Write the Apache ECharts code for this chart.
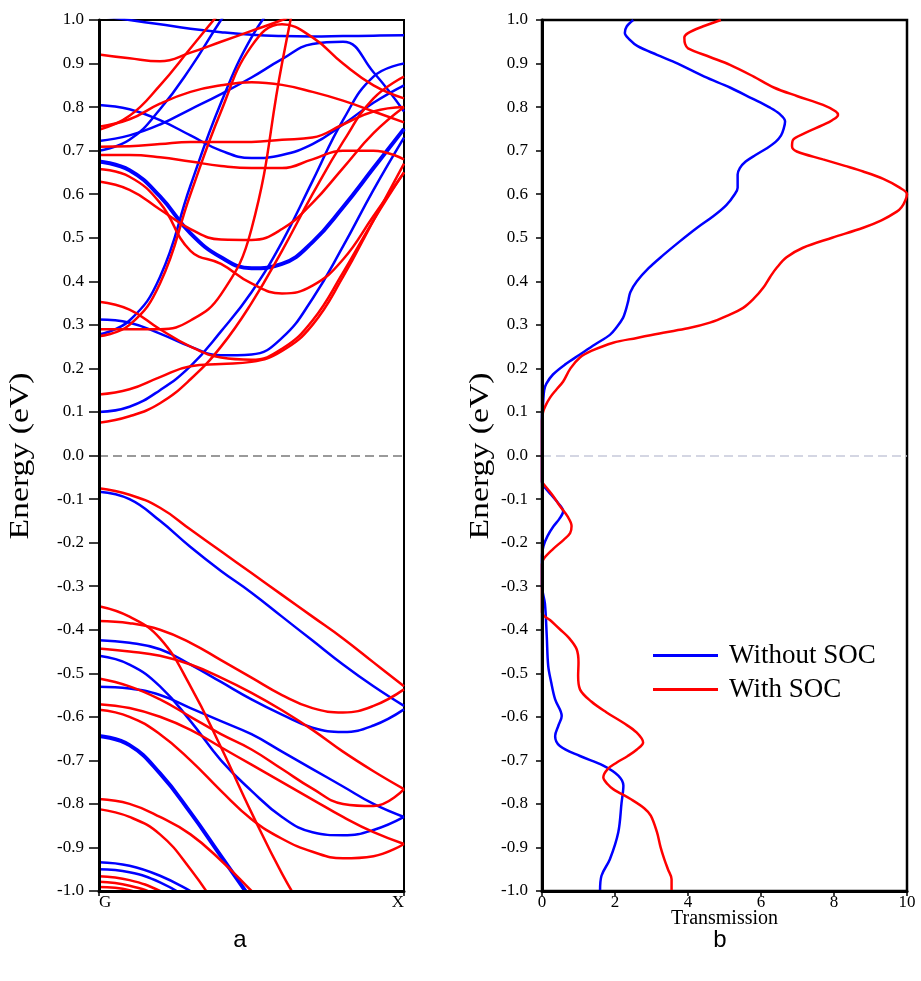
<!DOCTYPE html>
<html>
<head>
<meta charset="utf-8">
<script src="https://cdn.jsdelivr.net/npm/echarts@6/dist/echarts.min.js"></script>
<style>html,body{margin:0;padding:0;background:#fff}#c{width:921px;height:981px}</style>
</head>
<body>
<div id="c"></div>
<script>
// ---- Panel a: band structure, k path G -> X ----
const kPath = [0, 0.1, 0.2, 0.3, 0.4, 0.5, 0.6, 0.7, 0.8, 0.9, 1.0];
const kTickLabels = ['G', 'X'];

// without SOC (blue) valence bands
const vbB1 = [-0.083, -0.10, -0.15, -0.21, -0.265, -0.315, -0.37, -0.425, -0.48, -0.53, -0.575];
const vbB2 = [-0.424, -0.43, -0.445, -0.48, -0.52, -0.56, -0.595, -0.625, -0.635, -0.62, -0.583];
const vbB3 = [-0.460, -0.48, -0.53, -0.61, -0.70, -0.77, -0.83, -0.865, -0.872, -0.86, -0.83];
const vbB4 = [-0.531, -0.535, -0.55, -0.58, -0.61, -0.64, -0.68, -0.72, -0.76, -0.80, -0.83];
const vbB5 = [-0.644, -0.665, -0.73, -0.82, -0.92, -1.02, -1.12, -1.22, -1.32, -1.42, -1.52];
const vbB6 = [-0.934, -0.942, -0.965, -1.0, -1.04, -1.09, -1.14, -1.19, -1.24, -1.29, -1.34];
const vbB7 = [-0.950, -0.957, -0.98, -1.02, -1.07, -1.12, -1.17, -1.22, -1.27, -1.32, -1.37];
// without SOC (blue) conduction bands
const cbB1 = [0.10, 0.112, 0.15, 0.205, 0.285, 0.375, 0.49, 0.63, 0.77, 0.87, 0.90];
const cbB2 = [0.312, 0.305, 0.28, 0.25, 0.23, 0.232, 0.27, 0.36, 0.48, 0.61, 0.73];
const cbB3 = [0.278, 0.31, 0.41, 0.62, 0.81, 0.96, 1.06, 1.15, 1.24, 1.33, 1.42];
const cbB4 = [0.675, 0.655, 0.595, 0.51, 0.455, 0.43, 0.44, 0.49, 0.57, 0.66, 0.75];
const cbB5 = [0.722, 0.735, 0.76, 0.795, 0.83, 0.868, 0.91, 0.945, 0.95, 0.88, 0.79];
const cbB6 = [0.805, 0.795, 0.77, 0.735, 0.70, 0.683, 0.69, 0.715, 0.76, 0.81, 0.85];
const cbB7 = [1.01, 1.0, 0.99, 0.98, 0.972, 0.966, 0.963, 0.962, 0.963, 0.964, 0.965];
const cbB8 = [0.70, 0.725, 0.795, 0.89, 1.0, 1.1, 1.2, 1.3, 1.4, 1.5, 1.6];

// with SOC (red) valence bands
const vbR1 = [-0.075, -0.09, -0.12, -0.17, -0.22, -0.27, -0.32, -0.37, -0.42, -0.475, -0.53];
const vbR2 = [-0.346, -0.37, -0.42, -0.53, -0.67, -0.82, -0.96, -1.08, -1.2, -1.3, -1.4];
const vbR3 = [-0.380, -0.385, -0.40, -0.43, -0.47, -0.51, -0.55, -0.58, -0.59, -0.575, -0.537];
const vbR4 = [-0.443, -0.45, -0.46, -0.48, -0.51, -0.545, -0.585, -0.63, -0.68, -0.725, -0.766];
const vbR5 = [-0.512, -0.53, -0.56, -0.60, -0.64, -0.675, -0.72, -0.765, -0.80, -0.805, -0.766];
const vbR6 = [-0.571, -0.58, -0.60, -0.63, -0.67, -0.71, -0.75, -0.79, -0.83, -0.865, -0.892];
const vbR7 = [-0.584, -0.60, -0.64, -0.70, -0.77, -0.835, -0.88, -0.91, -0.925, -0.92, -0.892];
const vbR8 = [-0.789, -0.80, -0.83, -0.87, -0.93, -1.0, -1.07, -1.14, -1.2, -1.26, -1.32];
const vbR9 = [-0.812, -0.83, -0.87, -0.95, -1.05, -1.15, -1.25, -1.35, -1.45, -1.55, -1.65];
const vbR10 = [-0.966, -0.975, -1.0, -1.04, -1.09, -1.14, -1.19, -1.24, -1.29, -1.34, -1.39];
const vbR11 = [-0.979, -0.988, -1.012, -1.05, -1.1, -1.15, -1.2, -1.25, -1.3, -1.35, -1.4];
const vbR12 = [-0.991, -0.998, -1.025, -1.06, -1.11, -1.16, -1.21, -1.26, -1.31, -1.36, -1.41];
// with SOC (red) conduction bands
const cbR1 = [0.075, 0.09, 0.12, 0.175, 0.25, 0.35, 0.47, 0.60, 0.72, 0.82, 0.87];
const cbR2 = [0.14, 0.152, 0.18, 0.205, 0.21, 0.215, 0.24, 0.30, 0.41, 0.54, 0.67];
const cbR3 = [0.353, 0.335, 0.29, 0.25, 0.225, 0.22, 0.245, 0.31, 0.42, 0.54, 0.65];
const cbR4 = [0.29, 0.29, 0.29, 0.31, 0.37, 0.52, 0.90, 1.25, 1.6, 1.9, 2.2];
const cbR5 = [0.274, 0.30, 0.395, 0.60, 0.79, 0.94, 0.99, 0.96, 0.90, 0.85, 0.82];
const cbR6 = [0.629, 0.61, 0.565, 0.52, 0.496, 0.495, 0.52, 0.58, 0.66, 0.74, 0.80];
const cbR7 = [0.658, 0.64, 0.58, 0.47, 0.44, 0.395, 0.372, 0.39, 0.45, 0.55, 0.65];
const cbR8 = [0.709, 0.71, 0.715, 0.72, 0.72, 0.72, 0.725, 0.73, 0.76, 0.79, 0.80];
const cbR9 = [0.69, 0.69, 0.685, 0.675, 0.665, 0.66, 0.66, 0.68, 0.70, 0.70, 0.68];
const cbR10 = [0.755, 0.772, 0.808, 0.835, 0.85, 0.857, 0.851, 0.835, 0.815, 0.79, 0.765];
const cbR11 = [0.748, 0.78, 0.85, 0.935, 1.02, 1.1, 1.2, 1.3, 1.4, 1.5, 1.6];
const cbR12 = [0.921, 0.912, 0.905, 0.925, 0.95, 0.975, 1.0, 1.03, 1.06, 1.09, 1.12];

const blueBands = [vbB1, vbB2, vbB3, vbB4, vbB5, vbB6, vbB7, cbB1, cbB2, cbB3, cbB4, cbB5, cbB6, cbB7, cbB8];
const redBands = [vbR1, vbR2, vbR3, vbR4, vbR5, vbR6, vbR7, vbR8, vbR9, vbR10, vbR11, vbR12,
                  cbR1, cbR2, cbR3, cbR4, cbR5, cbR6, cbR7, cbR8, cbR9, cbR10, cbR11, cbR12];
const thickBands = [vbB5, cbB4];

// ---- Panel b: transmission, [energy (eV), T] ----
const transWithoutSOC = [
  [1.0,2.5],[0.985,2.32],[0.97,2.27],[0.955,2.4],[0.94,2.62],[0.92,3.15],[0.9,3.72],[0.87,4.45],
  [0.845,5.15],[0.82,5.75],[0.8,6.22],[0.785,6.5],[0.767,6.66],[0.75,6.62],[0.735,6.55],[0.72,6.4],
  [0.705,6.15],[0.69,5.85],[0.675,5.58],[0.66,5.42],[0.645,5.36],[0.63,5.36],[0.615,5.36],[0.6,5.28],
  [0.575,5.05],[0.55,4.7],[0.523,4.25],[0.49,3.75],[0.46,3.32],[0.43,2.92],[0.4,2.6],[0.375,2.42],
  [0.354,2.36],[0.335,2.3],[0.316,2.22],[0.295,2.05],[0.277,1.86],[0.255,1.45],[0.232,1.04],[0.21,0.65],
  [0.186,0.30],[0.165,0.12],[0.15,0.06],[0.12,0.03],[0.09,0],[0.0,0],[-0.06,0],[-0.067,0.02],
  [-0.09,0.25],[-0.11,0.45],[-0.128,0.58],[-0.145,0.48],[-0.162,0.32],[-0.185,0.15],[-0.208,0.04],[-0.23,0],
  [-0.3,0],[-0.34,0.08],[-0.414,0.13],[-0.483,0.17],[-0.52,0.25],[-0.56,0.36],[-0.598,0.54],[-0.62,0.45],
  [-0.644,0.36],[-0.667,0.49],[-0.69,1.04],[-0.712,1.68],[-0.735,2.09],[-0.758,2.23],[-0.797,2.18],[-0.865,2.09],
  [-0.927,1.86],[-0.965,1.63],[-1.0,1.59]
];
const transWithSOC = [
  [1.0,4.9],[0.985,4.4],[0.97,4.0],[0.96,3.9],[0.945,3.92],[0.935,4.0],[0.915,4.6],[0.897,5.15],
  [0.87,5.8],[0.845,6.35],[0.825,7.0],[0.805,7.7],[0.79,8.05],[0.782,8.11],[0.77,7.95],[0.759,7.7],
  [0.74,7.2],[0.725,6.88],[0.71,6.85],[0.698,6.98],[0.68,7.7],[0.665,8.3],[0.652,8.8],[0.635,9.35],
  [0.615,9.8],[0.6,10.0],[0.585,9.95],[0.57,9.85],[0.56,9.72],[0.54,9.3],[0.523,8.8],[0.5,7.95],
  [0.477,7.15],[0.455,6.7],[0.431,6.43],[0.41,6.25],[0.385,6.06],[0.36,5.8],[0.339,5.51],[0.32,5.05],
  [0.305,4.6],[0.292,4.0],[0.282,3.32],[0.27,2.6],[0.259,1.95],[0.24,1.35],[0.225,1.04],[0.2,0.78],
  [0.17,0.58],[0.15,0.38],[0.133,0.22],[0.115,0.1],[0.1,0.03],[0.08,0],[-0.06,0],[-0.063,0.02],
  [-0.09,0.28],[-0.116,0.49],[-0.14,0.7],[-0.162,0.81],[-0.178,0.77],[-0.193,0.6],[-0.215,0.3],[-0.238,0.04],
  [-0.25,0],[-0.36,0],[-0.38,0.25],[-0.399,0.49],[-0.42,0.75],[-0.445,0.95],[-0.475,1.0],[-0.506,0.99],
  [-0.537,1.04],[-0.565,1.35],[-0.59,1.77],[-0.615,2.25],[-0.636,2.59],[-0.659,2.77],[-0.675,2.6],[-0.69,2.35],
  [-0.705,2.05],[-0.72,1.8],[-0.739,1.68],[-0.755,1.8],[-0.766,1.95],[-0.79,2.45],[-0.81,2.8],[-0.827,2.98],
  [-0.865,3.15],[-0.9,3.25],[-0.927,3.35],[-0.95,3.45],[-0.973,3.55],[-1.0,3.55]
];
const transTicks = [0, 2, 4, 6, 8, 10];
const legendNames = ['Without SOC', 'With SOC'];

// ---- build chart ----
const BLUE = '#0000ff', RED = '#ff0000';
const SERIF = 'Liberation Serif';
const chart = echarts.init(document.getElementById('c'), null, {renderer: 'canvas'});

function eLabel(v) { return Math.abs(v) < 1e-9 ? '0.0' : v.toFixed(1); }

function bandSeries(vals, color) {
  return {
    type: 'line', xAxisIndex: 0, yAxisIndex: 0,
    data: kPath.map((k, i) => [k, vals[i]]),
    smooth: 0.45, showSymbol: false, symbol: 'none', clip: true, silent: true,
    lineStyle: {color: color, width: thickBands.includes(vals) ? 4 : 2.5}
  };
}

const series = [];
series.push({
  type: 'line', xAxisIndex: 0, yAxisIndex: 0, data: [], silent: true,
  markLine: {silent: true, symbol: ['none', 'none'], label: {show: false}, animation: false,
    lineStyle: {color: '#7a7a7a', width: 1.6, type: [9, 5]}, data: [{yAxis: 0}]}
});
blueBands.forEach(b => series.push(bandSeries(b, BLUE)));
redBands.forEach(b => series.push(bandSeries(b, RED)));
series.push({
  type: 'line', xAxisIndex: 1, yAxisIndex: 1, data: [], silent: true,
  markLine: {silent: true, symbol: ['none', 'none'], label: {show: false}, animation: false,
    lineStyle: {color: '#c6c9da', width: 1.6, type: [9, 5]}, data: [{yAxis: 0}]}
});
series.push({
  name: legendNames[0], type: 'line', xAxisIndex: 1, yAxisIndex: 1,
  data: transWithoutSOC.map(p => [p[1], p[0]]), smooth: 0.35, showSymbol: false, symbol: 'none',
  lineStyle: {color: BLUE, width: 2.5}, itemStyle: {color: BLUE}, silent: true
});
series.push({
  name: legendNames[1], type: 'line', xAxisIndex: 1, yAxisIndex: 1,
  data: transWithSOC.map(p => [p[1], p[0]]), smooth: 0.35, showSymbol: false, symbol: 'none',
  lineStyle: {color: RED, width: 2.5}, itemStyle: {color: RED}, silent: true
});

function yAxisCfg(grid, tickLen, margin) {
  return {
    gridIndex: grid, type: 'value', min: -1, max: 1, interval: 0.1, z: 5,
    axisLine: {show: true, onZero: false, lineStyle: {color: '#000', width: 3}},
    axisTick: {show: true, inside: false, length: tickLen, lineStyle: {color: '#000', width: 1.5}},
    axisLabel: {formatter: eLabel, fontFamily: SERIF, fontSize: 17, color: '#000', margin: margin},
    splitLine: {show: false}
  };
}

function energyTitle(x) {
  return {type: 'text', x: x, y: 456, rotation: Math.PI / 2, scaleX: 1.25, scaleY: 1,
    style: {text: 'Energy (eV)', x: 0, y: 0, textAlign: 'center', textVerticalAlign: 'middle',
      font: '27px "Liberation Serif"', fill: '#000'}};
}

const option = {
  animation: false,
  backgroundColor: '#fff',
  grid: [
    {left: 99, top: 20, width: 305, height: 871, show: true, borderColor: '#000', borderWidth: 2, backgroundColor: 'transparent'},
    {left: 542, top: 20, width: 365, height: 871, show: true, borderColor: '#000', borderWidth: 2.5, backgroundColor: 'transparent'}
  ],
  xAxis: [
    {gridIndex: 0, type: 'value', min: 0, max: 1, z: 5,
      axisLine: {onZero: false, lineStyle: {color: '#000', width: 3}},
      axisTick: {customValues: [0, 1], length: 5, lineStyle: {color: '#000', width: 1.5}},
      axisLabel: {customValues: [0, 1], formatter: v => (v < 0.5 ? kTickLabels[0] : kTickLabels[1]),
        fontFamily: SERIF, fontSize: 17, color: '#000', margin: 3, alignMinLabel: 'left', alignMaxLabel: 'right'},
      splitLine: {show: false}},
    {gridIndex: 1, type: 'value', min: 0, max: 10, interval: 2, z: 5,
      name: 'Transmission', nameLocation: 'middle', nameGap: 18, nameMoveOverlap: false,
      nameTextStyle: {fontFamily: SERIF, fontSize: 20, color: '#000'},
      axisLine: {onZero: false, lineStyle: {color: '#000', width: 3}},
      axisTick: {customValues: transTicks, length: 5, lineStyle: {color: '#000', width: 1.5}},
      axisLabel: {customValues: transTicks, fontFamily: SERIF, fontSize: 17, color: '#000', margin: 3},
      splitLine: {show: false}}
  ],
  yAxis: [yAxisCfg(0, 10, 15), yAxisCfg(1, 6, 14)],
  legend: {
    data: legendNames, orient: 'vertical', left: 648, top: 637, itemWidth: 65, itemHeight: 3,
    icon: 'rect', itemGap: 7, selectedMode: false,
    textStyle: {fontFamily: SERIF, fontSize: 27, color: '#000', padding: [0, 0, 0, 6]}
  },
  graphic: [
    energyTitle(21),
    energyTitle(481),
    {type: 'text', style: {text: 'a', x: 240, y: 940, textAlign: 'center', textVerticalAlign: 'middle',
      font: '24px "Liberation Sans"', fill: '#000'}},
    {type: 'text', style: {text: 'b', x: 720, y: 940, textAlign: 'center', textVerticalAlign: 'middle',
      font: '24px "Liberation Sans"', fill: '#000'}}
  ],
  series: series
};
chart.setOption(option);
</script>
</body>
</html>
